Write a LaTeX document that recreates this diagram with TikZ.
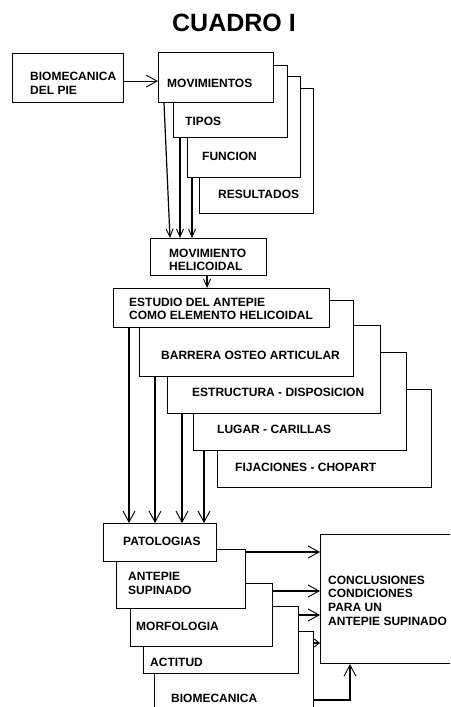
\documentclass[tikz,border=0pt]{standalone}
\usepackage{fontspec}
\setmainfont{Liberation Sans}
\usetikzlibrary{calc}
\usetikzlibrary{arrows.meta}
\usetikzlibrary{positioning}

\tikzset{
  box/.style={draw, fill=white, line width=1.2pt, inner sep=0pt, anchor=north west},
  lbl/.style={anchor=west, inner sep=0pt, align=left,
    font=\fontsize{12}{13.7}\selectfont\bfseries},
  arr/.style={line width=1.2pt,
    -{Straight Barb[length=11pt,width=12pt,line width=0.9pt]}},
  smallarr/.style={line width=1.2pt,
    -{Straight Barb[length=8pt,width=7pt,line width=0.9pt]}},
}

\begin{document}
\begin{tikzpicture}[x=1pt, y=-1pt]
  \useasboundingbox (0,0) rectangle (450,707);
  \clip (0,0) rectangle (450,707);

  \node[font=\fontsize{25}{30}\selectfont\bfseries] (title) at (234,23) {CUADRO I};

  % first stack
  \node[box, minimum width=111, minimum height=49] (bio) at (12,53) {};
  \node[box, minimum width=114, minimum height=125] (result) at (199,88) {};
  \node[box, minimum width=113, minimum height=101] (funcion) at (187,76) {};
  \node[box, minimum width=114, minimum height=72] (tipos) at (173,65) {};
  \node[box, minimum width=115, minimum height=50] (mov) at (158,52) {};

  \node[lbl] (tbio) at (30,83.5) {BIOMECANICA\\DEL PIE};
  \node[lbl] (tmov) at (167,83) {MOVIMIENTOS};
  \node[lbl] (ttipos) at (185,121) {TIPOS};
  \node[lbl] (tfuncion) at (202,156) {FUNCION};
  \node[lbl] (tresult) at (218,194) {RESULTADOS};

  \node[box, minimum width=116, minimum height=37] (helic) at (150,238) {};
  \node[lbl] (thelic) at (169,260) {MOVIMIENTO\\HELICOIDAL};

  % second stack
  \node[box, minimum width=214, minimum height=98] (fijac) at (217,389) {};
  \node[box, minimum width=213, minimum height=98] (lugar) at (193,352) {};
  \node[box, minimum width=213, minimum height=88] (estruct) at (167,325) {};
  \node[box, minimum width=214, minimum height=76] (barrera) at (139,300) {};
  \node[box, minimum width=216, minimum height=39] (estudio) at (113,288) {};

  \node[lbl] (testudio) at (129,309) {ESTUDIO DEL ANTEPIE\\COMO ELEMENTO HELICOIDAL};
  \node[lbl] (tbarrera) at (161,355) {BARRERA OSTEO ARTICULAR};
  \node[lbl] (testruct) at (192,392) {ESTRUCTURA - DISPOSICION};
  \node[lbl] (tlugar) at (217,429) {LUGAR - CARILLAS};
  \node[lbl] (tfijac) at (235,467) {FIJACIONES - CHOPART};

  % third stack
  \node[box, minimum width=159, minimum height=89] (biomec) at (154,631) {};
  \node[box, minimum width=155, minimum height=67] (actitud) at (143,606) {};
  \node[box, minimum width=142, minimum height=63] (morfo) at (130,583) {};
  \node[box, minimum width=129, minimum height=59] (antepie) at (116,549) {};
  \node[box, minimum width=113, minimum height=38] (patol) at (103,523) {};
  \node[box, minimum width=145, minimum height=129] (concl) at (320,534) {};

  \node[lbl] (tpatol) at (123,541) {PATOLOGIAS};
  \node[lbl] (tantepie) at (128,583.5) {ANTEPIE\\SUPINADO};
  \node[lbl] (tmorfo) at (136,626) {MORFOLOGIA};
  \node[lbl] (tactitud) at (150,662) {ACTITUD};
  \node[lbl] (tbiomec) at (171,698) {BIOMECANICA};
  \node[lbl] (tconcl) at (328,600.5) {CONCLUSIONES\\CONDICIONES\\PARA UN\\ANTEPIE SUPINADO};

  % connectors
  \draw[arr] ($(bio.east)+(0,3)$) -- ($(bio.east -| mov.west)+(0,3)$);

  \draw[smallarr] ($(mov.south west)+(6,0)$) -- ($(helic.north west)+(20,0)$);
  \draw[smallarr] ($(tipos.south west)+(7,0)$) -- ($(tipos.south west |- helic.north)+(7,0)$);
  \draw[smallarr] ($(funcion.south west)+(5,0)$) -- ($(funcion.south west |- helic.north)+(5,0)$);
  \draw[smallarr] ($(helic.south west)+(57,0)$) -- ($(helic.south west |- estudio.north)+(57,0)$);

  \foreach \src/\dx in {estudio/16, barrera/16, estruct/15, lugar/11}{%
    \draw[arr] ($(\src.south west)+(\dx,0)$) -- ($(\src.south west |- patol.north)+(\dx,0)$);
  }

  \draw[arr] ($(antepie.north east)+(0,3)$) -- ($(antepie.north east -| concl.west)+(0,3)$);
  \draw[arr] ($(morfo.north east)+(0,8)$) -- ($(morfo.north east -| concl.west)+(0,8)$);
  \draw[arr] ($(actitud.north east)+(0,9)$) -- ($(actitud.north east -| concl.west)+(0,9)$);
  \draw[line width=1.2pt, -{Straight Barb[length=5pt,width=8pt,line width=0.9pt]}]
    ($(biomec.north east)+(0,12)$) -- ($(biomec.north east -| concl.west)+(0,12)$);
  \draw[arr] ($(biomec.north east)+(0,69)$) -| ($(concl.south west)+(30,0)$);
\end{tikzpicture}
\end{document}
